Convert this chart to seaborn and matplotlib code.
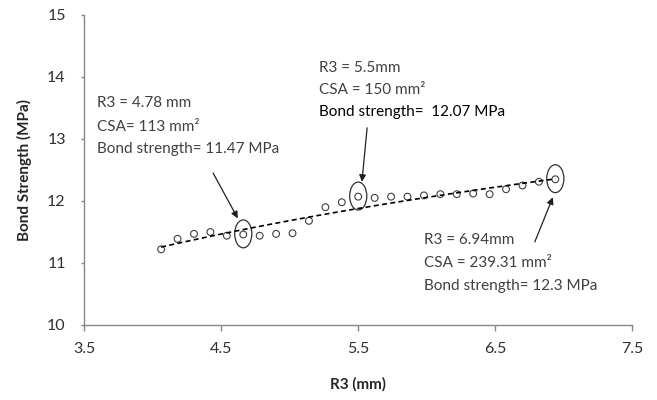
import matplotlib
matplotlib.use("Agg")
import matplotlib.pyplot as plt
from matplotlib.patches import Ellipse
import pandas as pd
import seaborn as sns

# R3 (mm) vs bond strength (MPa)
r3 = [4.06, 4.18, 4.30, 4.42, 4.54, 4.66, 4.78, 4.90, 5.02, 5.14, 5.26, 5.38, 5.50,
      5.62, 5.74, 5.86, 5.98, 6.10, 6.22, 6.34, 6.46, 6.58, 6.70, 6.82, 6.94]
bond = [11.22, 11.39, 11.47, 11.50, 11.44, 11.46, 11.44, 11.47, 11.48, 11.68, 11.90, 11.98, 12.07,
        12.05, 12.07, 12.07, 12.09, 12.11, 12.11, 12.12, 12.11, 12.19, 12.25, 12.31, 12.35]

x_ticks = [3.5, 4.5, 5.5, 6.5, 7.5]
y_ticks = [10, 11, 12, 13, 14, 15]

# highlighted points (index into the arrays above) and their notes
circled = [5, 12, 24]
notes = [
    ["R3 = 4.78 mm", "CSA= 113 mm²", "Bond strength= 11.47 MPa"],
    ["R3 = 5.5mm", "CSA = 150 mm²", "Bond strength=  12.07 MPa"],
    ["R3 = 6.94mm", "CSA = 239.31 mm²", "Bond strength= 12.3 MPa"],
]

df = pd.DataFrame({"r3": r3, "bond": bond})

sns.set_style("white")
plt.rcParams["font.family"] = ["Lato", "DejaVu Sans"]

fig = plt.figure(figsize=(6.57, 4), dpi=100)
ax = fig.add_axes([0.1286, 0.1875, 0.8333, 0.775])

# logarithmic trendline (dashed)
sns.regplot(data=df, x="r3", y="bond", ax=ax, ci=None, scatter=False, logx=True,
            line_kws=dict(color="black", lw=1.2, ls=(0, (3, 2))))
sns.scatterplot(data=df, x="r3", y="bond", ax=ax, s=24, marker="o",
                facecolor="none", edgecolor="#404040", linewidth=0.8)

# ellipses around the highlighted points
for i in circled:
    ax.add_patch(Ellipse((r3[i], bond[i] + 0.01), 0.125, 0.45, fill=False,
                         edgecolor="#303030", lw=0.9))

# note texts: (left x, row y's)
text_pos = [(3.59, [13.58, 13.19, 12.84]),
            (5.21, [14.145, 13.79, 13.435]),
            (5.98, [11.37, 11.0, 10.63])]
for k, (tx, rows) in enumerate(text_pos):
    for j, line in enumerate(notes[k]):
        col = "black" if (k == 1 and j == 2) else "#404040"
        ax.text(tx, rows[j], line, fontsize=11, color=col, va="center", ha="left")

arrows = [((4.44, 12.45), (4.62, 11.72)),
          ((5.565, 13.18), (5.527, 12.31)),
          ((6.79, 11.34), (6.922, 12.06))]
for tail, head in arrows:
    ax.annotate("", xy=head, xytext=tail,
                arrowprops=dict(arrowstyle="-|>", color="#202020", lw=0.9,
                                mutation_scale=10, shrinkA=0, shrinkB=0))

ax.set_xlim(3.5, 7.5)
ax.set_ylim(10, 15)
ax.set_xticks(x_ticks)
ax.set_xticklabels([str(v) for v in x_ticks])
ax.set_yticks(y_ticks)
ax.tick_params(axis="x", direction="out", length=4, width=1, color="#888888",
               pad=8.5, labelsize=11.5, labelcolor="#303030", bottom=True)
ax.tick_params(axis="y", direction="out", length=2.5, width=1, color="#888888",
               pad=11, labelsize=11.5, labelcolor="#303030", left=True)

sns.despine(ax=ax)
for side in ["left", "bottom"]:
    ax.spines[side].set_color("#888888")
    ax.spines[side].set_linewidth(1)

ax.set_xlabel("R3 (mm)", fontsize=11, fontweight="bold", labelpad=15)
ax.set_ylabel("Bond Strength (MPa)", fontsize=11, fontweight="bold", labelpad=11)

fig.savefig("out.png", dpi=100)
